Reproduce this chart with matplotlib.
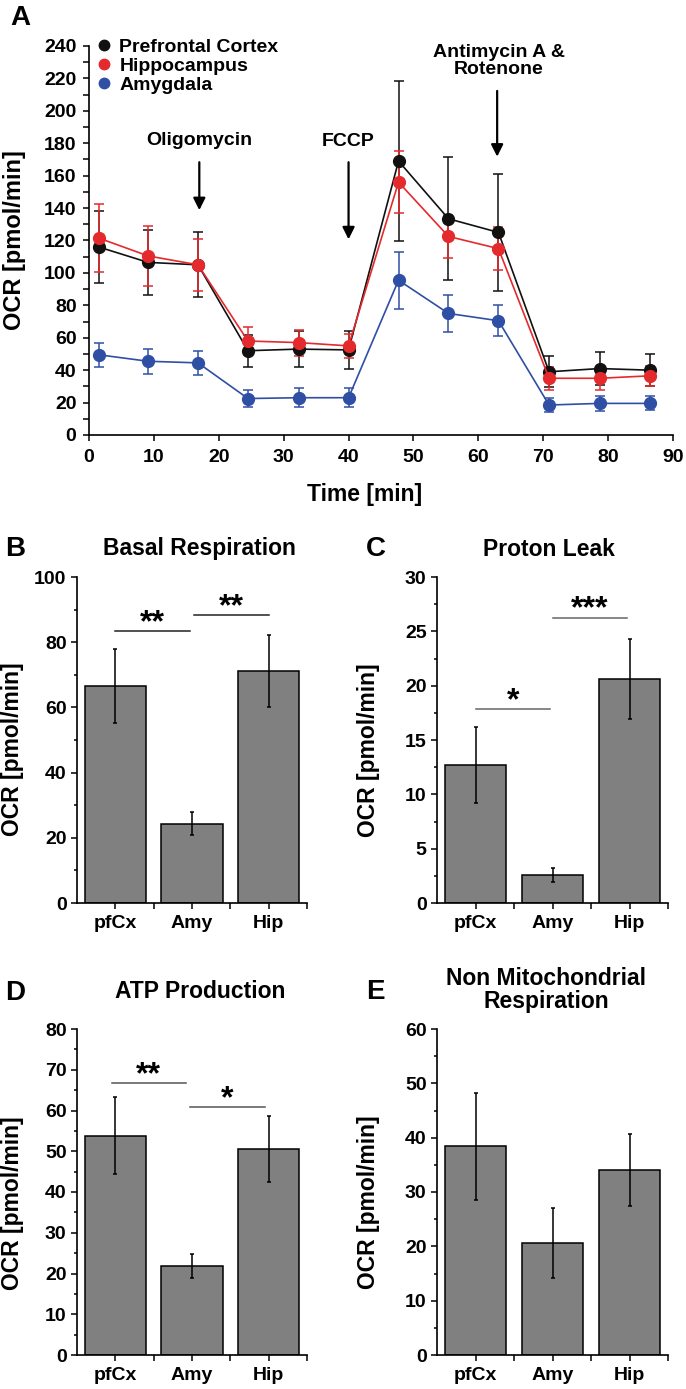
import matplotlib
matplotlib.use("Agg")
import matplotlib.pyplot as plt
from matplotlib.lines import Line2D
from matplotlib.ticker import MultipleLocator

plt.rcParams["font.family"] = ["Liberation Sans", "DejaVu Sans"]
plt.rcParams["font.weight"] = "bold"
plt.rcParams["axes.linewidth"] = 1.2

# --- panel A: OCR time course ---
time_min = [1.5, 9.1, 16.8, 24.5, 32.3, 40.0, 47.7, 55.4, 63.1, 70.9, 78.7, 86.4]
pfc_ocr = [116, 106.5, 105, 52, 53, 52.5, 169, 133.4, 125, 39, 41, 40]
pfc_err = [22, 20, 20, 10, 11, 11.5, 49.5, 38, 36, 9.5, 10, 10]
hip_ocr = [121.5, 110.5, 105, 58, 57, 55, 156, 122.5, 115, 35, 35, 36.5]
hip_err = [21, 18.5, 16, 8.5, 8, 7.5, 19, 13, 13.5, 7, 7, 6]
amy_ocr = [49.5, 45.5, 44.5, 22.5, 23, 23, 95.5, 75, 70.5, 18.5, 19.5, 19.5]
amy_err = [7.5, 7.7, 7.5, 5.5, 5.7, 5.7, 17.5, 11.5, 9.7, 4.5, 4.5, 4.3]
series_names = ["Prefrontal Cortex", "Hippocampus", "Amygdala"]
series_colors = ["#111111", "#e42a2c", "#2f4fa5"]

# --- bar panels ---
regions = ["pfCx", "Amy", "Hip"]
basal = [66.5, 24.3, 71.2]
basal_err = [11.3, 3.5, 11.0]
leak = [12.7, 2.6, 20.6]
leak_err = [3.5, 0.65, 3.7]
atp = [53.8, 21.8, 50.6]
atp_err = [9.4, 3.0, 8.1]
nonmito = [38.4, 20.6, 34.1]
nonmito_err = [9.9, 6.5, 6.6]

# significance brackets: (x start, x end, y, label)
basal_sig = [(0.0, 0.97, 83.4, "**"), (1.03, 2.0, 88.3, "**")]
leak_sig = [(0.0, 0.97, 17.85, "*"), (1.0, 1.97, 26.25, "***")]
atp_sig = [(-0.05, 0.92, 66.7, "**"), (0.98, 1.95, 60.9, "*")]

W, H = 686, 1389
fig = plt.figure(figsize=(W / 100, H / 100), dpi=100)


def px_axes(l, r, t, b):
    return fig.add_axes([l / W, 1 - b / H, (r - l) / W, (b - t) / H])


def style(ax):
    ax.spines["top"].set_visible(False)
    ax.spines["right"].set_visible(False)
    ax.tick_params(which="both", direction="out", length=4, width=1.1,
                   labelsize=14, colors="black")
    for lab in ax.get_xticklabels() + ax.get_yticklabels():
        lab.set_fontweight("bold")


# panel A
axA = px_axes(89, 673, 46, 435)
ocr = [pfc_ocr, hip_ocr, amy_ocr]
err = [pfc_err, hip_err, amy_err]
for vals, e, c in zip(ocr, err, series_colors):
    axA.errorbar(time_min, vals, yerr=e, color=c, ecolor=c, lw=1.2, elinewidth=1.1,
                 capsize=3.5, capthick=1.1, marker="o", markersize=8.5)
axA.set_xlim(0, 90)
axA.set_ylim(0, 240)
axA.xaxis.set_major_locator(MultipleLocator(10))
axA.yaxis.set_major_locator(MultipleLocator(20))
axA.yaxis.set_minor_locator(MultipleLocator(10))
style(axA)
axA.tick_params(axis="x", pad=6)
axA.tick_params(axis="y", pad=5)

handles = [Line2D([], [], ls="none", marker="o", markersize=7.5, color=c) for c in series_colors]
axA.legend(handles, series_names, loc="upper left", bbox_to_anchor=(0.012, 1.02),
           frameon=False, fontsize=14, handlelength=0.8, handletextpad=0.4,
           borderpad=0, borderaxespad=0, labelspacing=0.08)

arrow_kw = dict(arrowstyle="-|>", color="black", lw=1.6, mutation_scale=18)
axA.annotate("", xy=(17, 137), xytext=(17, 170), arrowprops=arrow_kw)
axA.text(17, 182, "Oligomycin", ha="center", va="center", fontsize=14, fontweight="bold")
axA.annotate("", xy=(40, 119), xytext=(40, 170), arrowprops=arrow_kw)
axA.text(40, 181, "FCCP", ha="center", va="center", fontsize=14, fontweight="bold")
axA.annotate("", xy=(62.9, 170), xytext=(62.9, 214), arrowprops=arrow_kw)
axA.text(63.2, 231, "Antimycin A &\nRotenone", ha="center", va="center", fontsize=14,
         fontweight="bold", linespacing=1.0)

fig.text(15 / W, 1 - 240 / H, "OCR [pmol/min]", rotation=90, ha="center", va="center",
         fontsize=17, fontweight="bold")
fig.text(365 / W, 1 - 495 / H, "Time [min]", ha="center", va="center",
         fontsize=16.5, fontweight="bold")
fig.text(20 / W, 1 - 18 / H, "A", ha="center", va="center", fontsize=20, fontweight="bold")


def bar_panel(ax, vals, errs, ymax, major, minor, sig, sig_color):
    x = list(range(len(regions)))
    ax.bar(x, vals, width=0.8, color="#808080", edgecolor="black", linewidth=1.1, zorder=2)
    ax.errorbar(x, vals, yerr=errs, fmt="none", ecolor="black", elinewidth=1.1,
                capsize=1.5, capthick=1.1, zorder=3)
    ax.set_xlim(-0.5, 2.5)
    ax.set_ylim(0, ymax)
    ax.set_xticks(x)
    ax.set_xticklabels(regions)
    ax.set_xticks([0.5, 1.5, 2.5], minor=True)
    ax.yaxis.set_major_locator(MultipleLocator(major))
    ax.yaxis.set_minor_locator(MultipleLocator(minor))
    style(ax)
    ax.tick_params(axis="y", which="minor", length=2)
    ax.tick_params(axis="x", which="minor", length=4)
    ax.tick_params(axis="x", pad=5)
    for x0, x1, y, lab in sig:
        ax.plot([x0, x1], [y, y], color=sig_color, lw=1.1, clip_on=False)
        # star glyphs sit high in the em box, pull them down a bit
        ax.annotate(lab, ((x0 + x1) / 2, y), xytext=(0, -5), textcoords="offset points",
                    ha="center", va="bottom", fontsize=23, fontweight="bold")


axB = px_axes(77, 307, 577, 903)
bar_panel(axB, basal, basal_err, 100, 20, 10, basal_sig, "#222222")
axC = px_axes(437, 668, 577, 903)
bar_panel(axC, leak, leak_err, 30, 5, 2.5, leak_sig, "#666666")
axD = px_axes(77, 307, 1029, 1355)
bar_panel(axD, atp, atp_err, 80, 10, 5, atp_sig, "#555555")
axE = px_axes(437, 668, 1029, 1355)
bar_panel(axE, nonmito, nonmito_err, 60, 10, 5, [], "#555555")

titles = [(199, 549, "Basal Respiration"), (549, 549, "Proton Leak"),
          (200, 992, "ATP Production"), (546, 990, "Non Mitochondrial\nRespiration")]
for x, y, t in titles:
    fig.text(x / W, 1 - y / H, t, ha="center", va="center", fontsize=16.5,
             fontweight="bold", linespacing=1.0)

letters = [(15, 549, "B"), (376, 549, "C"), (15, 993, "D"), (375, 992, "E")]
for x, y, t in letters:
    fig.text(x / W, 1 - y / H, t, ha="center", va="center", fontsize=20, fontweight="bold")

ylabs = [(13, 749), (369, 750), (13, 1203), (369, 1202)]
for x, y in ylabs:
    fig.text(x / W, 1 - y / H, "OCR [pmol/min]", rotation=90, ha="center", va="center",
             fontsize=16.5, fontweight="bold")

fig.savefig("out.png", dpi=100)
